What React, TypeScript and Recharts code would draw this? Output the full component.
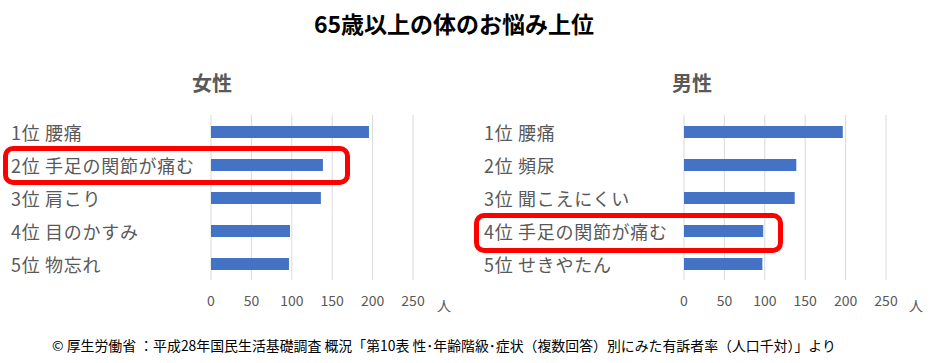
import React from 'react';
import { BarChart, Bar, XAxis, YAxis, CartesianGrid } from 'recharts';

const femaleLabels = ['1位 腰痛', '2位 手足の関節が痛む', '3位 肩こり', '4位 目のかすみ', '5位 物忘れ'];
const femaleValues = [195.5, 138.5, 136, 97.8, 96.5];

const maleLabels = ['1位 腰痛', '2位 頻尿', '3位 聞こえにくい', '4位 手足の関節が痛む', '5位 せきやたん'];
const maleValues = [196.5, 139, 137, 98, 97];

const valueTicks = [0, 50, 100, 150, 200, 250];

const FONT = '"Noto Sans CJK JP", "Noto Sans", sans-serif';
const GRAY = '#595959';

const CategoryTick = ({ y, payload, labelX }: any) => (
  <text
    x={labelX}
    y={y}
    textAnchor="start"
    dominantBaseline="central"
    fill={GRAY}
    fontSize={18}
    letterSpacing={0.7}
    fontFamily={FONT}
  >
    {payload.value}
  </text>
);

interface PanelProps {
  labels: string[];
  values: number[];
  left: number;
  axisWidth: number;
  labelX: number;
}

const Panel: React.FC<PanelProps> = ({ labels, values, left, axisWidth, labelX }) => {
  const data = labels.map((name, i) => ({ name, value: values[i] }));
  return (
    <div style={{ position: 'absolute', left, top: 115 }}>
      <BarChart
        width={axisWidth + 202 + 47}
        height={205}
        data={data}
        layout="vertical"
        margin={{ top: 0, right: 47, bottom: 0, left: 0 }}
      >
        <CartesianGrid horizontal={false} stroke="#d9d9d9" />
        <XAxis
          type="number"
          domain={[0, 250]}
          ticks={valueTicks}
          axisLine={false}
          tickLine={false}
          tickMargin={10}
          height={40}
          tick={{ fill: GRAY, fontSize: 14, fontFamily: FONT }}
        />
        <YAxis
          type="category"
          dataKey="name"
          width={axisWidth}
          axisLine={false}
          tickLine={false}
          tick={<CategoryTick labelX={labelX} />}
        />
        <Bar dataKey="value" fill="#4472C4" barSize={12} isAnimationActive={false} />
      </BarChart>
    </div>
  );
};

const abs = (style: React.CSSProperties): React.CSSProperties => ({ position: 'absolute', ...style });

export default function App() {
  return (
    <div style={{ position: 'absolute', left: 0, top: 0, width: 938, height: 363, background: '#fff', fontFamily: FONT, overflow: 'hidden' }}>
      <div style={abs({ left: 0, width: 908, top: 8, textAlign: 'center', fontSize: 23, fontWeight: 700, color: '#000', lineHeight: '30px' })}>
        65歳以上の体のお悩み上位
      </div>
      <div style={abs({ left: 192, top: 70, fontSize: 20, fontWeight: 700, color: GRAY, lineHeight: '26px' })}>女性</div>
      <div style={abs({ left: 672, top: 70, fontSize: 20, fontWeight: 700, color: GRAY, lineHeight: '26px' })}>男性</div>

      <Panel labels={femaleLabels} values={femaleValues} left={0} axisWidth={211} labelX={11} />
      <Panel labels={maleLabels} values={maleValues} left={470} axisWidth={214} labelX={14} />

      <div style={abs({ left: 437, top: 295, fontSize: 14, color: GRAY, lineHeight: '20px' })}>人</div>
      <div style={abs({ left: 909, top: 295, fontSize: 14, color: GRAY, lineHeight: '20px' })}>人</div>

      <div style={abs({ left: 3, top: 146, width: 347, height: 39, border: '5px solid #ff0000', borderRadius: 10, boxSizing: 'border-box' })} />
      <div style={abs({ left: 474, top: 213, width: 309, height: 40, border: '5px solid #ff0000', borderRadius: 10, boxSizing: 'border-box' })} />

      <div style={abs({ left: 52, top: 336, fontSize: 13.9, color: '#000', lineHeight: '18px', whiteSpace: 'nowrap' })}>
        © 厚生労働省 ：平成28年国民生活基礎調査 概況「第10表 性･年齢階級･症状（複数回答）別にみた有訴者率（人口千対）」より
      </div>
    </div>
  );
}
